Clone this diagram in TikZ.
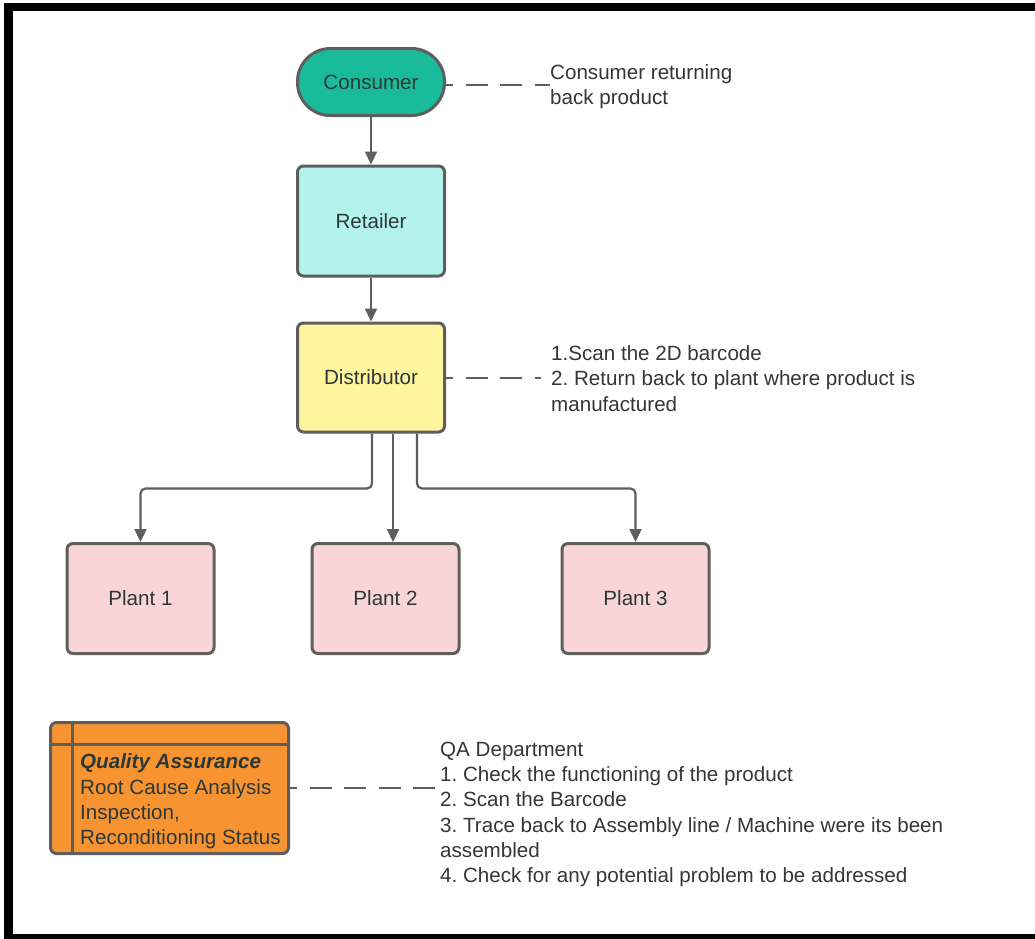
\documentclass[tikz,border=0pt]{standalone}
\usepackage{fontspec}
\setmainfont{Liberation Sans}
\usetikzlibrary{arrows.meta}
\frenchspacing
\definecolor{teal1}{HTML}{1ABB9B}
\definecolor{retcol}{HTML}{B4F3EB}
\definecolor{distcol}{HTML}{FFF59F}
\definecolor{plantcol}{HTML}{F9D5D7}
\definecolor{qacol}{HTML}{F79431}
\definecolor{bordcol}{HTML}{5E5E5E}
\definecolor{nodetext}{HTML}{2C3838}
\definecolor{notetext}{HTML}{363636}
\tikzset{
  txt/.style={font=\fontsize{20.6}{25.3}\selectfont},
  box/.style={txt, draw=bordcol, line width=3pt, rounded corners=6pt,
    minimum width=147pt, minimum height=110pt, text=nodetext, inner sep=0pt},
  note/.style={txt, text=notetext, align=left, anchor=west, inner sep=0pt},
  edge/.style={draw=bordcol, line width=2.2pt,
    -{Triangle[width=12pt,length=13pt]}},
  dashline/.style={draw=bordcol, line width=2pt, dash pattern=on 22pt off 12.5pt, dash phase=15pt}
}
\begin{document}
\frenchspacing
\begin{tikzpicture}[x=1pt,y=-1pt]
\useasboundingbox (0,0) rectangle (1035,938);
\clip (0,0) rectangle (1035,938);
\fill[white] (0,0) rectangle (1035,938);
% frame
\fill[black] (4,3) rectangle (1040,10.5);
\fill[black] (4,3) rectangle (12.5,945);
\fill[black] (4,934) rectangle (1040,945);

% main nodes
\node[box, fill=teal1, minimum height=67pt, rounded corners=33pt] (cons) at (371,82) {Consumer};
\node[box, fill=retcol] (ret) at (371,221) {Retailer};
\node[box, fill=distcol, minimum height=109pt] (dist) at (371,377.5) {Distributor};
\node[box, fill=plantcol] (p1) at (140.5,598.5) {Plant 1};
\node[box, fill=plantcol] (p2) at (385.5,598.5) {Plant 2};
\node[box, fill=plantcol] (p3) at (635.5,598.5) {Plant 3};

% QA box
\node[box, fill=qacol, minimum width=238pt, minimum height=131pt] (qa) at (169.5,788) {};
\draw[draw=bordcol, line width=3pt] ([xshift=23pt]qa.north west) -- ([xshift=23pt]qa.south west);
\draw[draw=bordcol, line width=3pt] ([yshift=-23pt]qa.north west) -- ([yshift=-23pt]qa.north east);
\node[note, text=nodetext] (qatext) at (80,801.5) {\textbf{\textit{Quality Assurance}}\\Root Cause Analysis\\Inspection,\\Reconditioning Status};

% notes
\node[note] (consnote) at (550,87) {Consumer returning\\back product};
\node[note] (distnote) at (551,378.5) {1.Scan the 2D barcode\\2. Return back to plant where product is\\manufactured};
\node[note] (qanote) at (440,814.5) {QA Department\\1. Check the functioning of the product\\2. Scan the Barcode\\3. Trace back to Assembly line / Machine were its been\\assembled\\4. Check for any potential problem to be addressed};

% connectors
\draw[edge] (cons) -- (ret);
\draw[edge] (ret) -- (dist);
\draw[edge, rounded corners=5pt] ([xshift=1pt]dist.south) -- ++(0,55) -| (p1.north);
\draw[edge] ([xshift=22pt]dist.south) -- ([xshift=22pt]dist.south |- p2.north);
\draw[edge, rounded corners=5pt] ([xshift=46pt]dist.south) -- ++(0,55) -| (p3.north);

% dashed links
\draw[dashline] ([yshift=-3pt]cons.east) -- ([yshift=-3pt]cons.east -| consnote.west);
\draw[dashline] (dist.east) -- ([xshift=-10pt]dist.east -| distnote.west);
\draw[dashline] (qa.east) -- (qa.east -| qanote.west);
\end{tikzpicture}
\end{document}
